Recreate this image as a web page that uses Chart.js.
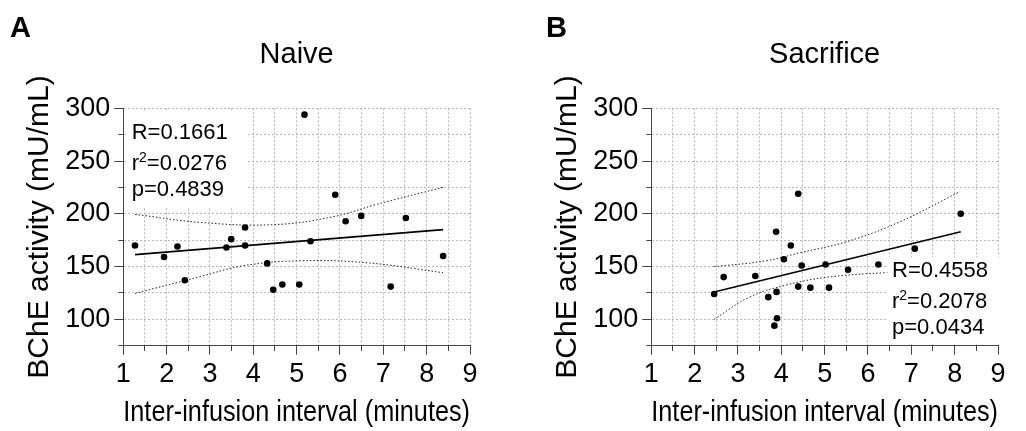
<!DOCTYPE html>
<html>
<head>
<meta charset="utf-8">
<script src="https://cdn.jsdelivr.net/npm/chart.js@4.4.1/dist/chart.umd.min.js"></script>
<style>
  body { margin: 0; background: #fff; overflow: hidden; width: 1026px; height: 431px; position: relative; }
  canvas { position: absolute; top: 0; }
  #chartA { left: 0; }
  #chartB { left: 528px; }
</style>
</head>
<body>
<canvas id="chartA" width="498" height="431"></canvas>
<canvas id="chartB" width="498" height="431"></canvas>
<script>
// tick labels that get a number (the other ticks are minor)
const xLabels = [1, 2, 3, 4, 5, 6, 7, 8, 9];
const yLabels = [100, 150, 200, 250, 300];

// Naive
const naiveX = [1.27, 1.94, 2.25, 2.42, 3.38, 3.49, 3.81, 3.81, 4.32, 4.46, 4.67, 5.06, 5.18, 5.32, 5.89, 6.13, 6.49, 7.17, 7.52, 8.38];
const naiveY = [170, 159, 169, 137, 168, 176, 187, 170, 153, 128, 133, 133, 294, 174, 218, 193, 198, 131, 196, 160];
const naiveFitX = [1.27, 8.38];
const naiveFitY = [161.3, 185.0];
const naiveUpperX = [1.27, 2.77, 4.46, 5.85, 6.85, 8.38];
const naiveUpperY = [199.5, 191.9, 189.7, 197.3, 209.0, 225.1];
const naiveLowerX = [1.27, 2.77, 3.77, 5.08, 6.62, 8.38];
const naiveLowerY = [124.6, 140.4, 150.8, 155.5, 153.6, 144.2];
const naiveStats = ["0.1661", "0.0276", "0.4839"];

// Sacrifice
const sacX = [2.45, 2.67, 3.40, 3.70, 3.84, 3.88, 3.89, 3.90, 4.06, 4.22, 4.39, 4.39, 4.47, 4.67, 5.02, 5.10, 5.54, 6.24, 7.08, 8.14];
const sacY = [124, 140, 141, 121, 94, 183, 126, 101, 157, 170, 219, 131, 151, 130, 152, 130, 147, 152, 167, 200];
const sacFitX = [2.45, 8.14];
const sacFitY = [125.9, 183.0];
const sacUpperX = [2.45, 3.67, 4.43, 5.51, 6.74, 8.12];
const sacUpperY = [149.9, 155.6, 163.1, 173.6, 192.5, 221.0];
const sacLowerX = [2.45, 3.28, 4.12, 5.04, 6.43, 8.14];
const sacLowerY = [100.0, 121.4, 132.5, 139.8, 144.2, 146.0];
const sacStats = ["0.4558", "0.2078", "0.0434"];

const family = "'Liberation Sans', Arial, sans-serif";

function pts(xs, ys) {
  return xs.map((x, i) => ({ x: x, y: ys[i] }));
}

// panel letter + white box with the correlation numbers
const panelText = {
  id: "panelText",
  afterDraw(chart, args, opts) {
    const ctx = chart.ctx;
    const area = chart.chartArea;
    ctx.save();
    ctx.fillStyle = "#000";
    ctx.textBaseline = "alphabetic";
    ctx.textAlign = "left";
    ctx.font = "bold 29px " + family;
    ctx.fillText(opts.letter, opts.letterX, 37);

    ctx.fillStyle = "#fff";
    ctx.fillRect(area.left + opts.box[0], area.top + opts.box[1], opts.box[2], opts.box[3]);

    const tx = area.left + opts.textX;
    const ty = area.top + opts.textY;
    ctx.fillStyle = "#000";
    ctx.font = "22px " + family;
    ctx.fillText("R=" + opts.stats[0], tx, ty);
    const wr = ctx.measureText("r").width;
    ctx.fillText("r", tx, ty + 31);
    ctx.font = "14px " + family;
    ctx.fillText("2", tx + wr, ty + 31 - 8);
    const w2 = ctx.measureText("2").width;
    ctx.font = "22px " + family;
    ctx.fillText("=" + opts.stats[1], tx + wr + w2, ty + 31);
    ctx.fillText("p=" + opts.stats[2], tx, ty + 57);
    ctx.restore();
  }
};

function makeChart(id, title, xs, ys, fitX, fitY, upX, upY, loX, loY, text) {
  const bandStyle = {
    showLine: true, pointRadius: 0, borderColor: "#222", borderWidth: 1,
    borderDash: [1.5, 2], tension: 0.4, fill: false
  };
  return new Chart(document.getElementById(id), {
    type: "scatter",
    data: {
      datasets: [
        { data: pts(xs, ys), backgroundColor: "#000", borderWidth: 0, pointRadius: 3.3 },
        { data: pts(fitX, fitY), showLine: true, pointRadius: 0, borderColor: "#000", borderWidth: 1.6 },
        Object.assign({ data: pts(upX, upY) }, bandStyle),
        Object.assign({ data: pts(loX, loY) }, bandStyle),
      ],
    },
    options: {
      responsive: false,
      animation: false,
      layout: { padding: { top: 0, right: 28, bottom: 0, left: 0 } },
      plugins: {
        legend: { display: false },
        tooltip: { enabled: false },
        title: {
          display: true, text: title, fullSize: false, color: "#000",
          font: { size: 29, weight: "normal", family: family },
          padding: { top: 38, bottom: 35.5 },
        },
        panelText: text,
      },
      scales: {
        x: {
          type: "linear", min: 1, max: 9,
          ticks: {
            stepSize: 0.5, autoSkip: false, maxRotation: 0, padding: 4, color: "#000",
            font: { size: 27, family: family },
            callback: (v) => (xLabels.includes(v) ? String(v) : ""),
          },
          grid: {
            color: "#b8b8b8", lineWidth: 1, tickColor: "#444", tickLength: 9, tickWidth: 1,
            tickBorderDash: (c) => (c.tick && !xLabels.includes(c.tick.value) ? [5, 100] : []),
          },
          border: { color: "#444", width: 1, dash: [2, 2] },
          title: {
            display: true, text: "Inter-infusion interval (minutes)", color: "#000",
            font: { size: 29, family: family }, padding: { top: 0, bottom: 1 },
          },
          afterFit: (s) => { s.height = 85.3; s.paddingLeft = 0; s.paddingRight = 0; },
        },
        y: {
          type: "linear", min: 75, max: 300,
          ticks: {
            stepSize: 25, autoSkip: false, padding: 4, color: "#000",
            font: { size: 27, family: family },
            callback: (v) => (yLabels.includes(v) ? String(v) : ""),
          },
          grid: {
            color: "#b8b8b8", lineWidth: 1, tickColor: "#444", tickLength: 9, tickWidth: 1,
            tickBorderDash: (c) => (c.tick && !yLabels.includes(c.tick.value) ? [0, 4, 5, 100] : []),
          },
          border: { color: "#444", width: 1, dash: [2, 2] },
          title: {
            display: true, text: "BChE activity (mU/mL)", color: "#000",
            font: { size: 30, family: family }, padding: { top: 21.6, bottom: 0 },
          },
          afterFit: (s) => { s.width = 123.3; s.paddingTop = 0; s.paddingBottom = 0; },
        },
      },
    },
    plugins: [panelText],
  });
}

makeChart("chartA", "Naive", naiveX, naiveY, naiveFitX, naiveFitY,
  naiveUpperX, naiveUpperY, naiveLowerX, naiveLowerY,
  { letter: "A", letterX: 10, box: [3, 3, 120, 95], textX: 8.4, textY: 30.7, stats: naiveStats });

makeChart("chartB", "Sacrifice", sacX, sacY, sacFitX, sacFitY,
  sacUpperX, sacUpperY, sacLowerX, sacLowerY,
  { letter: "B", letterX: 18, box: [236, 149, 113, 86], textX: 240.7, textY: 169, stats: sacStats });
</script>
</body>
</html>
